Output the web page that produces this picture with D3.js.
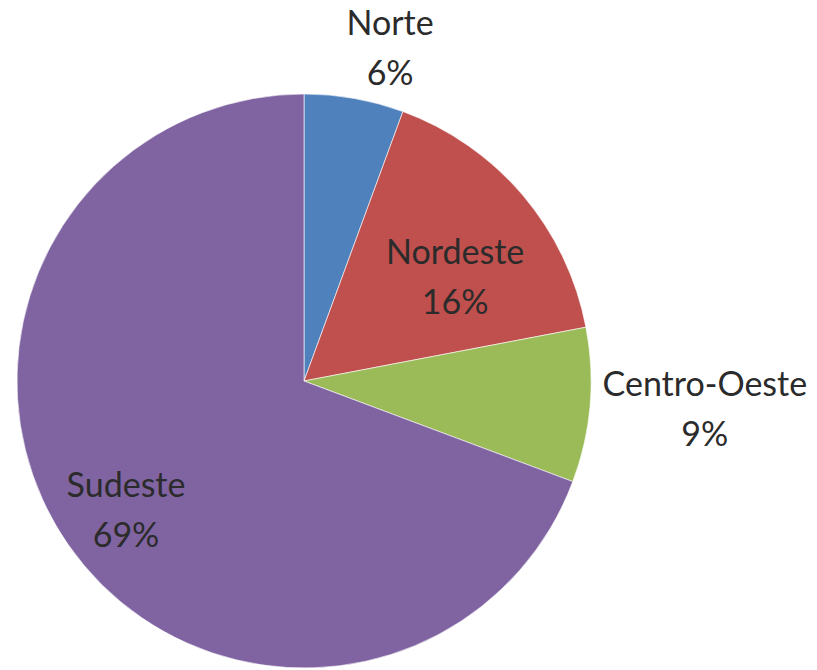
<!DOCTYPE html>
<html>
<head>
<meta charset="utf-8">
<script src="https://cdn.jsdelivr.net/npm/d3@7"></script>
<style>
  html, body { margin: 0; padding: 0; background: #fff; }
</style>
</head>
<body>
<div id="app"></div>
<script>
'use strict'
// regions and their share of the total (percent)
const regions = ['Norte', 'Nordeste', 'Centro-Oeste', 'Sudeste']
const shares = [5.6, 16.4, 8.7, 69.3]
const colors = ['#4F81BD', '#C0504D', '#9BBB59', '#8064A2']

const width = 817
const height = 670
const cx = 304
const cy = 381
const radius = 287

// label placement: angle shift (deg) from slice middle and distance as fraction of radius
const labelLayout = [
  { dAngle: 4.4, dist: 1.20 },
  { dAngle: 5.7, dist: 0.64 },
  { dAngle: -0.9, dist: 1.40 },
  { dAngle: -1.2, dist: 0.766 }
]

const svg = d3.select('#app').append('svg')
  .attr('width', width)
  .attr('height', height)
  .append('g')
  .attr('transform', `translate(${cx}, ${cy})`)

const pie = d3.pie().sort(null).value(d => d)
const arcs = pie(shares)

const arc = d3.arc().innerRadius(0).outerRadius(radius)

svg.selectAll('path.slice')
  .data(arcs)
  .enter()
  .append('path')
  .attr('class', 'slice')
  .attr('d', arc)
  .style('fill', (d, i) => colors[i])
  .style('stroke', '#fff')
  .style('stroke-width', 1)
  .style('stroke-opacity', 0.6)

const fmt = d3.format('.0f')

const labels = svg.selectAll('text.label')
  .data(arcs)
  .enter()
  .append('text')
  .attr('class', 'label')
  .attr('transform', (d, i) => {
    const a = (d.startAngle + d.endAngle) / 2 + labelLayout[i].dAngle * Math.PI / 180
    const r = labelLayout[i].dist * radius
    return `translate(${Math.sin(a) * r}, ${-Math.cos(a) * r})`
  })
  .attr('text-anchor', 'middle')
  .style('font-family', 'Lato, "Open Sans", sans-serif')
  .style('font-size', '34px')
  .style('fill', '#2b2b2b')

labels.append('tspan')
  .attr('x', 0)
  .attr('y', -13)
  .text((d, i) => regions[i])

labels.append('tspan')
  .attr('x', 0)
  .attr('y', 37)
  .text(d => fmt(d.data) + '%')
</script>
</body>
</html>
